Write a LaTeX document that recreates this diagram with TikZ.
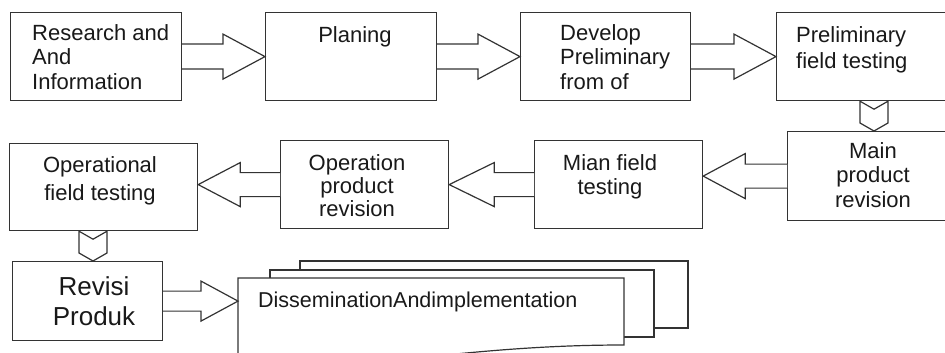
\documentclass[tikz,border=0pt]{standalone}
\usepackage{fontspec}
\setmainfont{Liberation Sans}
\usetikzlibrary{calc}
\tikzset{
  box/.style={draw=black!80, line width=1.2pt, fill=white, rectangle, inner sep=0pt, anchor=north west},
  blk/.style={draw=black!80, line width=1.2pt, fill=white, line join=miter},
  txt/.style={font=\fontsize{22}{24.5}\selectfont, inner sep=0pt, text=black!90},
  bigtxt/.style={font=\fontsize{26}{30}\selectfont, inner sep=0pt, text=black!90},
}
% block arrow: from, to, signed head length, shaft half width, head half width
\newcommand\BlkArrow[5]{%
  \draw[blk] let \p1=(#1), \p2=(#2) in
    ({\x1},{\y1-#4}) -- ({\x2-(#3)},{\y1-#4}) -- ({\x2-(#3)},{\y1-#5}) -- ({\x2},{\y1})
    -- ({\x2-(#3)},{\y1+#5}) -- ({\x2-(#3)},{\y1+#4}) -- ({\x1},{\y1+#4});}
% downward chevron: from (south anchor), to (north anchor), x position
\newcommand\ChevDown[3]{%
  \draw[blk] let \p1=(#1), \p2=(#2), \p3=(#3,0) in
    ({\x3-14},{\y1}) -- ({\x3},{\y1-8}) -- ({\x3+14},{\y1}) -- ({\x3+14},{\y2+8})
    -- ({\x3},{\y2}) -- ({\x3-14},{\y2+8}) -- cycle;}
\begin{document}
\begin{tikzpicture}[x=1pt, y=-1pt]
\useasboundingbox (0,0) rectangle (945,353);
\clip (0,0) rectangle (945,353);

% boxes
\node[box, minimum width=171pt, minimum height=88pt] (b1) at (10,12) {};
\node[box, minimum width=171pt, minimum height=88pt] (b2) at (265,12) {};
\node[box, minimum width=170pt, minimum height=88pt] (b3) at (520,12) {};
\node[box, minimum width=190pt, minimum height=88pt] (b4) at (776,12) {};
\node[box, minimum width=180pt, minimum height=89pt] (b5) at (787,131) {};
\node[box, minimum width=168pt, minimum height=88pt] (b6) at (534,140) {};
\node[box, minimum width=168pt, minimum height=88pt] (b7) at (280,140) {};
\node[box, minimum width=188pt, minimum height=87pt] (b8) at (9,143) {};
\node[box, minimum width=150pt, minimum height=79pt] (b9) at (12,261) {};

% multi-document shape
\draw[blk, fill=none] (300,270) |- (688,261) |- (654,328);
\draw[blk, fill=none] (270,278) |- (654,270) |- (624,337);
\draw[blk] (238,370) -- (238,278) -- (624,278) -- (624,345)
  .. controls (540,345) and (470,352) .. (380,362)
  .. controls (320,368) and (270,366) .. (238,362) -- cycle;
\node[inner sep=0pt, minimum width=386pt, minimum height=44pt, anchor=north west] (d) at (238,278) {};

% texts (anchor base = baseline of the last line)
\node[txt, align=left, anchor=base west] (t1) at (32,89) {Research and\\[-0.5pt]And\\Information};
\node[txt, anchor=base] (t2) at (355,43) {Planing};
\node[txt, align=left, anchor=base west] (t3) at (560,89) {Develop\\Preliminary\\from of};
\node[txt, align=left, anchor=base west] (t4) at (796,69) {Preliminary\\[1.5pt]field testing};
\node[txt, align=center, anchor=base] (t5) at (873,207) {Main\\product\\revision};
\node[txt, align=center, anchor=base] (t6) at (610,194) {Mian field\\[-0.5pt]testing};
\node[txt, align=center, anchor=base] (t7) at (357,216) {Operation\\[-1.5pt]product\\[-1.5pt]revision};
\node[txt, align=center, anchor=base] (t8) at (100,200) {Operational\\[3.5pt]field testing};
\node[bigtxt, align=center, anchor=base] (t9) at (94,325) {Revisi\\Produk};
\node[txt, font=\fontsize{21.5}{24}\selectfont, anchor=base west] (t10) at (258,307) {DisseminationAndimplementation};

% block arrows
\BlkArrow{b1.east}{b2.west}{42}{12.5}{22.5}
\BlkArrow{b2.east}{b3.west}{42}{12.5}{22.5}
\BlkArrow{b3.east}{b4.west}{42}{12.5}{22.5}
\BlkArrow{b5.west}{b6.east}{-42}{12}{22.5}
\BlkArrow{b6.west}{b7.east}{-45}{12}{22}
\BlkArrow{b7.west}{b8.east}{-42}{12}{22}
\BlkArrow{b9.east}{d.west}{37}{10}{20}

% down chevrons
\ChevDown{b4.south}{b5.north}{874}
\ChevDown{b8.south}{b9.north}{93}
\end{tikzpicture}
\end{document}
